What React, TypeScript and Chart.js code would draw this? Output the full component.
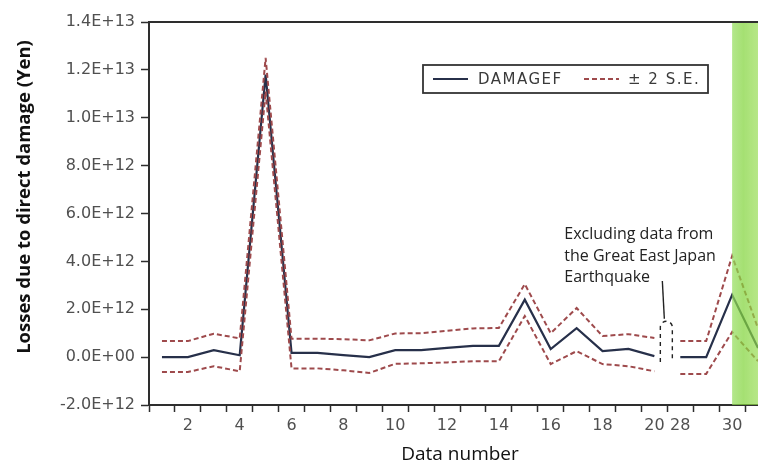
import { useEffect, useRef } from 'react';
import { Chart, registerables } from 'chart.js';

Chart.register(...registerables);

// ---- data (values in units of 1E+12 yen) ----
const dataNumbers = ['1','2','3','4','5','6','7','8','9','10','11','12','13','14','15','16','17','18','19','20','28','29','30','31'];
const damagef = [0.0, 0.0, 0.29, 0.08, 11.8, 0.18, 0.18, 0.08, 0.0, 0.29, 0.29, 0.39, 0.47, 0.47, 2.4, 0.34, 1.21, 0.25, 0.34, 0.04, 0.0, 0.0, 2.6, 0.38];
const upperBand = [0.67, 0.67, 0.98, 0.78, 12.5, 0.77, 0.77, 0.75, 0.7, 0.99, 1.0, 1.1, 1.2, 1.22, 3.05, 1.0, 2.05, 0.88, 0.96, 0.8, 0.67, 0.67, 4.23, 1.2];
const lowerBand = [-0.62, -0.62, -0.38, -0.59, 11.1, -0.47, -0.47, -0.55, -0.66, -0.28, -0.26, -0.22, -0.17, -0.17, 1.72, -0.29, 0.25, -0.29, -0.38, -0.59, -0.7, -0.7, 1.05, -0.17];
const UNIT = 1e12;
const yMin = -2e12;
const yMax = 1.4e13;
const yStep = 2e12;
const lastBeforeGap = '20';
const highlightFrom = '30';
const legendLabels = ['DAMAGEF', '\u00B1 2 S.E.'];
const annotationLines = ['Excluding data from', 'the Great East Japan', 'Earthquake'];
const yTitle = 'Losses due to direct damage (Yen)';
const xTitle = 'Data number';

const NAVY = '#27304a';
const BAND = '#9e4a4c';
const AXIS = '#2e2e2e';
const TICK_TEXT = '#505050';

function sci(v: number): string {
  const [m, e] = v.toExponential(1).split('e');
  const sign = e[0];
  const digits = e.slice(1).padStart(2, '0');
  return `${m}E${sign}${digits}`;
}

const gapIndex = dataNumbers.indexOf(lastBeforeGap);
const hideGap = (ctx: any) => (ctx.p0DataIndex === gapIndex ? 'rgba(0,0,0,0)' : undefined);

const bandPlugin = {
  id: 'greenBand',
  afterDatasetsDraw(chart: any) {
    const { ctx, chartArea, scales } = chart;
    const x0 = scales.x.getPixelForValue(dataNumbers.indexOf(highlightFrom));
    const g = ctx.createLinearGradient(x0, 0, x0 + 32, 0);
    g.addColorStop(0, 'rgba(150,222,95,0.72)');
    g.addColorStop(0.35, 'rgba(130,212,60,0.72)');
    g.addColorStop(1, 'rgba(155,222,85,0.66)');
    ctx.save();
    ctx.fillStyle = g;
    ctx.fillRect(x0, chartArea.top, chartArea.right - x0, chartArea.bottom - chartArea.top);
    ctx.restore();
  },
};

const decorPlugin = {
  id: 'decor',
  afterDraw(chart: any) {
    const { ctx, chartArea, scales } = chart;
    const xs = scales.x;
    const ys = scales.y;
    ctx.save();
    // frame top & right
    ctx.strokeStyle = AXIS;
    ctx.lineWidth = 2;
    ctx.beginPath();
    ctx.moveTo(chartArea.left, chartArea.top);
    ctx.lineTo(chartArea.right, chartArea.top);
    ctx.lineTo(chartArea.right, chartArea.bottom);
    ctx.stroke();

    // legend box
    const lx = chartArea.left + 274;
    const ly = chartArea.top + 43;
    const lw = 285;
    const lh = 28;
    const cy = ly + lh / 2;
    ctx.fillStyle = '#ffffff';
    ctx.fillRect(lx, ly, lw, lh);
    ctx.strokeStyle = '#333333';
    ctx.lineWidth = 1.8;
    ctx.strokeRect(lx, ly, lw, lh);
    ctx.lineWidth = 2;
    ctx.strokeStyle = NAVY;
    ctx.beginPath();
    ctx.moveTo(lx + 10, cy);
    ctx.lineTo(lx + 45, cy);
    ctx.stroke();
    ctx.strokeStyle = BAND;
    ctx.setLineDash([5, 3]);
    ctx.beginPath();
    ctx.moveTo(lx + 161, cy);
    ctx.lineTo(lx + 196, cy);
    ctx.stroke();
    ctx.setLineDash([]);
    ctx.fillStyle = '#3a3a3a';
    ctx.font = '15px "DejaVu Sans"';
    (ctx as any).letterSpacing = '1.5px';
    ctx.textBaseline = 'middle';
    ctx.textAlign = 'left';
    ctx.fillText(legendLabels[0], lx + 55, cy + 1);
    ctx.fillText(legendLabels[1], lx + 205, cy + 1);
    (ctx as any).letterSpacing = '0px';

    // annotation
    const xa = xs.getPixelForValue(gapIndex);
    const xb = xs.getPixelForValue(gapIndex + 1);
    const mid = (xa + xb) / 2 - 1;
    ctx.fillStyle = '#222222';
    ctx.font = '16px "Open Sans"';
    ctx.textBaseline = 'alphabetic';
    const tx = mid - 102;
    const baseVals = [4.94e12, 4.02e12, 3.14e12];
    annotationLines.forEach((t, i) => ctx.fillText(t, tx, ys.getPixelForValue(baseVals[i])));
    // leader
    ctx.strokeStyle = '#222222';
    ctx.lineWidth = 1.4;
    ctx.beginPath();
    ctx.moveTo(mid - 4, ys.getPixelForValue(3.18e12));
    ctx.lineTo(mid - 2, ys.getPixelForValue(1.6e12));
    ctx.stroke();
    // dashed arch
    const aTop = ys.getPixelForValue(1.5e12);
    const aBot = ys.getPixelForValue(-0.2e12);
    const r = 6;
    ctx.setLineDash([4, 4]);
    ctx.beginPath();
    ctx.moveTo(mid - r, aBot);
    ctx.lineTo(mid - r, aTop + r);
    ctx.arc(mid, aTop + r, r, Math.PI, 0);
    ctx.lineTo(mid + r, aBot);
    ctx.stroke();
    ctx.setLineDash([]);

    // y title
    ctx.translate(25, chartArea.top + 175);
    ctx.rotate(-Math.PI / 2);
    ctx.fillStyle = '#111111';
    ctx.font = 'bold 18.5px "Open Sans"';
    ctx.textAlign = 'center';
    ctx.textBaseline = 'middle';
    ctx.fillText(yTitle, 0, 0);
    ctx.restore();
  },
};

export default function App() {
  const ref = useRef<HTMLCanvasElement | null>(null);
  useEffect(() => {
    if (!ref.current) return;
    const chart = new Chart(ref.current, {
      type: 'line',
      data: {
        labels: dataNumbers,
        datasets: [
          {
            label: legendLabels[1],
            data: upperBand.map((v) => v * UNIT),
            borderColor: BAND,
            borderWidth: 2,
            borderDash: [5, 3],
            pointRadius: 0,
            tension: 0,
            order: 0,
            segment: { borderColor: hideGap },
          },
          {
            label: legendLabels[1] + ' low',
            data: lowerBand.map((v) => v * UNIT),
            borderColor: BAND,
            borderWidth: 2,
            borderDash: [5, 3],
            pointRadius: 0,
            tension: 0,
            order: 0,
            segment: { borderColor: hideGap },
          },
          {
            label: legendLabels[0],
            data: damagef.map((v) => v * UNIT),
            borderColor: NAVY,
            borderWidth: 2.2,
            pointRadius: 0,
            tension: 0,
            order: 1,
            segment: { borderColor: hideGap },
          },
        ],
      },
      options: {
        responsive: false,
        animation: false,
        layout: { padding: { top: 22, left: 0, right: 0, bottom: 0 } },
        plugins: { legend: { display: false }, tooltip: { enabled: false }, title: { display: false } },
        scales: {
          x: {
            type: 'category',
            offset: true,
            grid: { display: true, offset: true, drawOnChartArea: false, drawTicks: true, tickLength: 7, tickColor: AXIS, tickWidth: 1.5 },
            border: { display: true, color: AXIS, width: 2 },
            ticks: {
              autoSkip: false,
              maxRotation: 0,
              minRotation: 0,
              padding: 4,
              color: TICK_TEXT,
              font: { family: 'DejaVu Sans', size: 16 },
              callback: (_v: any, i: number) => (Number(dataNumbers[i]) % 2 === 0 ? dataNumbers[i] : ''),
            },
            title: { display: true, text: xTitle, color: '#111111', font: { family: 'Open Sans', size: 19 }, padding: { top: 0, bottom: 1 } },
            afterFit: (s: any) => { s.height = 62; },
          },
          y: {
            min: yMin,
            max: yMax,
            grid: { drawOnChartArea: false, drawTicks: true, tickLength: 8, tickColor: AXIS, tickWidth: 1.5 },
            border: { display: true, color: AXIS, width: 2 },
            ticks: { stepSize: yStep, padding: 6, color: TICK_TEXT, font: { family: 'DejaVu Sans', size: 16 }, callback: (v: any) => sci(Number(v)) },
            afterFit: (s: any) => { s.width = 149; },
          },
        },
      },
      plugins: [bandPlugin, decorPlugin],
    });
    return () => chart.destroy();
  }, []);
  return (
    <div style={{ position: 'fixed', left: 0, top: 0, width: 758, height: 467, overflow: 'hidden', background: '#ffffff' }}>
      <canvas ref={ref} width={771} height={467} style={{ display: 'block' }} />
    </div>
  );
}
